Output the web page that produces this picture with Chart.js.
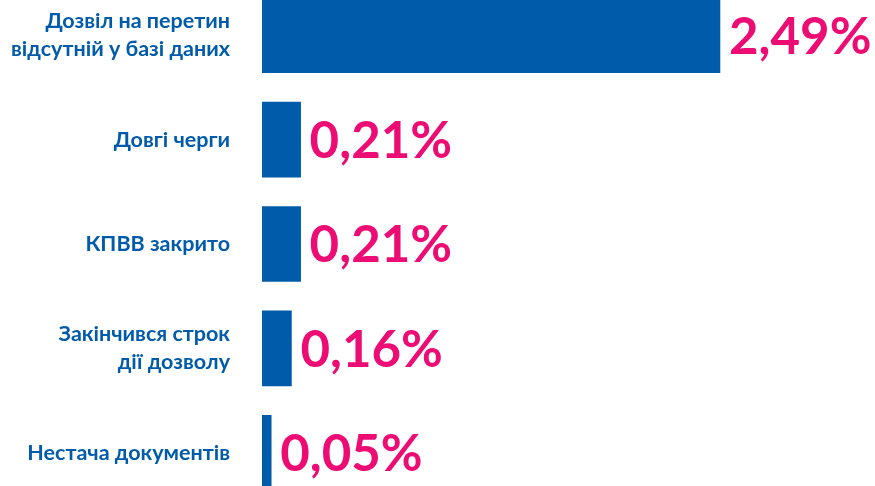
<!DOCTYPE html>
<html>
<head>
<meta charset="utf-8">
<script src="https://cdn.jsdelivr.net/npm/chart.js@4"></script>
<style>
  html, body { margin: 0; padding: 0; background: #ffffff; overflow: hidden; width: 875px; height: 486px; }
  #c { position: absolute; left: 0; top: -17px; }
</style>
</head>
<body>
<canvas id="c" width="875" height="522"></canvas>
<script>
const categories = [
  ['Дозвіл на перетин', 'відсутній у базі даних'],
  'Довгі черги',
  'КПВВ закрито',
  ['Закінчився строк', 'дії дозволу'],
  'Нестача документів'
];
const shares = [2.49, 0.21, 0.21, 0.16, 0.05];

const BLUE = '#005BAA';
const PINK = '#EC0C73';

const valueLabels = {
  id: 'valueLabels',
  afterDatasetsDraw(chart) {
    const ctx = chart.ctx;
    const meta = chart.getDatasetMeta(0);
    ctx.save();
    ctx.fillStyle = PINK;
    ctx.font = 'bold 51px Lato, "Open Sans", sans-serif';
    ctx.textAlign = 'left';
    ctx.textBaseline = 'middle';
    meta.data.forEach((bar, i) => {
      const txt = shares[i].toFixed(2).replace('.', ',') + '%';
      ctx.fillText(txt, bar.x + 9, bar.y + 2);
    });
    ctx.restore();
  }
};

new Chart(document.getElementById('c'), {
  type: 'bar',
  data: {
    labels: categories,
    datasets: [{
      data: shares,
      backgroundColor: BLUE,
      borderWidth: 0,
      barThickness: 75
    }]
  },
  options: {
    indexAxis: 'y',
    responsive: false,
    maintainAspectRatio: false,
    animation: false,
    layout: { padding: 0 },
    plugins: {
      legend: { display: false },
      tooltip: { enabled: false }
    },
    scales: {
      x: {
        display: false,
        min: 0,
        max: 3.333
      },
      y: {
        grid: { display: false, drawTicks: false },
        border: { display: false },
        ticks: {
          color: BLUE,
          padding: 32,
          font: { family: 'Lato, "Open Sans", sans-serif', weight: 'bold', size: 21.5, lineHeight: 1.3 }
        },
        afterFit(axis) {
          axis.width = 262;
          axis.paddingTop = 0;
          axis.paddingBottom = 0;
        }
      }
    }
  },
  plugins: [valueLabels]
});
</script>
</body>
</html>
